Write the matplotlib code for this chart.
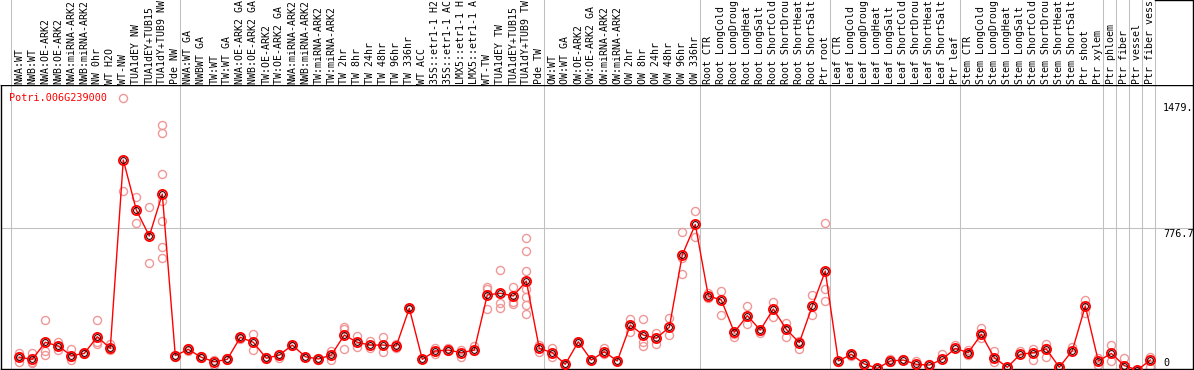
import matplotlib
matplotlib.use("Agg")
import matplotlib.pyplot as plt

# ---------------- data ----------------
gene = "Potri.006G239000"

samples = [
    "NWA:WT", "NWB:WT", "NWA:OE-ARK2", "NWB:OE-ARK2", "NWA:miRNA-ARK2", "NWB:miRNA-ARK2",
    "NW 0hr", "WT H2O", "WT-NW", "TUA1dEY NW", "TUA1dEY+TUB15 NW", "TUA1dY+TUB9 NW", "Pde NW",
    "NWA:WT GA", "NWBWT GA", "TW:WT", "TW:WT GA", "NWA:OE-ARK2 GA", "NWB:OE-ARK2 GA",
    "TW:OE-ARK2", "TW:OE-ARK2 GA", "NWA:miRNA-ARK2 GA", "NWB:miRNA-ARK2 GA", "TW:miRNA-ARK2",
    "TW:miRNA-ARK2 GA", "TW 2hr", "TW 8hr", "TW 24hr", "TW 48hr", "TW 96hr", "TW 336hr",
    "WT ACC", "35S::etr1-1 H2O", "35S::etr1-1 ACC", "LMX5::etr1-1 H2O", "LMX5::etr1-1 ACC",
    "WT-TW", "TUA1dEY TW", "TUA1dEY+TUB15 TW", "TUA1dY+TUB9 TW", "Pde TW",
    "OW:WT", "OW:WT GA", "OW:OE-ARK2", "OW:OE-ARK2 GA", "OW:miRNA-ARK2", "OW:miRNA-ARK2 GA",
    "OW 2hr", "OW 8hr", "OW 24hr", "OW 48hr", "OW 96hr", "OW 336hr",
    "Root CTR", "Root LongCold", "Root LongDrought", "Root LongHeat", "Root LongSalt",
    "Root ShortCold", "Root ShortDrought", "Root ShortHeat", "Root ShortSalt", "Ptr root",
    "Leaf CTR", "Leaf LongCold", "Leaf LongDrought", "Leaf LongHeat", "Leaf LongSalt",
    "Leaf ShortCold", "Leaf ShortDrought", "Leaf ShortHeat", "Leaf ShortSalt", "Ptr leaf",
    "Stem CTR", "Stem LongCold", "Stem LongDrought", "Stem LongHeat", "Stem LongSalt",
    "Stem ShortCold", "Stem ShortDrought", "Stem ShortHeat", "Stem ShortSalt", "Ptr shoot",
    "Ptr xylem", "Ptr phloem", "Ptr fiber", "Ptr vessel", "Ptr fiber vessel",
]

means = [
    80, 69, 161, 141, 89, 101, 191, 128, 1146, 876, 735, 962, 89,
    123, 80, 56, 69, 188, 161, 75, 92, 146, 83, 71, 92, 200, 161, 146, 146, 141, 345,
    69, 114, 119, 105, 119, 417, 426, 411, 492, 128,
    105, 42, 164, 65, 110, 60, 254, 200, 183, 242, 633, 798,
    411, 390, 215, 305, 227, 341, 231, 159, 357, 546,
    60, 96, 44, 20, 60, 65, 42, 38, 69, 128,
    105, 204, 78, 26, 96, 105, 125, 26, 116, 357, 60,
    101, 35, 11, 65,
]

replicates = [
    [101, 56, 85], [105, 48, 56], [280, 116, 92], [164, 119, 140], [123, 65, 80],
    [101, 98, 104], [280, 161, 152], [150, 128, 120], [1479, 977], [944, 804],
    [890, 588], [1335, 1290, 1070, 926, 815, 674, 615], [95, 80],
    [130, 115], [88, 75], [66, 38], [75, 65], [180, 192], [206, 119], [80, 70],
    [75, 100], [146, 140], [83], [78, 65], [116, 65], [242, 123, 235], [197, 137],
    [170, 130], [188, 107], [150, 130], [345, 340], [69], [130, 100], [130, 115],
    [119, 80], [140, 115], [461, 449, 341], [552, 372, 348], [458, 377, 370],
    [723, 654, 546, 447, 406, 362, 312], [145, 110],
    [128, 80], [42], [164], [65], [128, 96], [60], [287, 215], [287, 164, 143],
    [213, 150], [291, 200], [755, 615, 528], [870, 728],
    [425, 398], [438, 308], [191, 205], [357, 258], [210, 220], [377, 296],
    [267, 191], [170, 125], [417, 308], [804, 447, 384],
    [55], [100, 88], [48], [20], [70, 55], [70], [60], [42], [96], [146],
    [119, 92], [237, 182], [114, 53], [26], [116], [123, 65], [152, 128, 80],
    [26], [134], [390, 320], [78, 38],
    [146, 60], [75], [11], [80, 30],
]

group_bounds = [0, 13, 41, 53, 63, 73, 84, 85, 86, 87, 88]
grid_value = 776.7
ytick_labels = ["1479.", "776.7", "0"]

# ---------------- layout (pixels) ----------------
W, H, DPI = 1194, 370, 100
PX0, PX1 = 1, 1193           # plot frame x
PT, PB = 85, 369             # plot frame y (top / bottom)
COL_X0, COL_W = 19.3, 13.0   # pixel x of first column, spacing
Y_ZERO, Y_SCALE = 372.1, 0.1851  # pixel y of value 0, px per unit
MAX_CHARS = 14               # label box only shows this many characters

def px2dx(px):
    return (px - COL_X0) / COL_W

def py2val(py):
    return (Y_ZERO - py) / Y_SCALE

fig = plt.figure(figsize=(W / DPI, H / DPI), dpi=DPI)
ax = fig.add_axes([PX0 / W, (H - PB) / H, (PX1 - PX0) / W, (PB - PT) / H])
lab = fig.add_axes([PX0 / W, (H - PT) / H, (PX1 - PX0) / W, PT / H])

xlim = (px2dx(PX0), px2dx(PX1))
ax.set_xlim(*xlim)
ax.set_ylim(py2val(PB), py2val(PT))
lab.set_xlim(*xlim)
lab.set_ylim(0, 1)

for a in (ax, lab):
    a.set_xticks([])
    a.set_yticks([])
    a.set_facecolor("white")

for s in ax.spines.values():
    s.set_color("black")
    s.set_linewidth(1.0)
for s in lab.spines.values():
    s.set_visible(False)
lab.spines["right"].set_visible(True)
lab.spines["right"].set_color("black")
lab.spines["right"].set_linewidth(1.0)

GRAY = "#c0c0c0"
LW = 0.75
col_off = (11 - COL_X0) / COL_W
for k in group_bounds:
    ax.axvline(k + col_off, color=GRAY, lw=LW, zorder=0)
    lab.axvline(k + col_off, color=GRAY, lw=LW, zorder=0)
ax.axhline(grid_value, color=GRAY, lw=LW, zorder=0)
# top border of the empty label box on the right
lab.plot([group_bounds[-1] + col_off, xlim[1]], [0.995, 0.995], color="black", lw=1.0,
         clip_on=False)

# replicates
for i, reps in enumerate(replicates):
    ax.plot([i] * len(reps), reps, linestyle="none", marker="o", ms=5.8,
            mfc="none", mec="#f09898", mew=1.0, zorder=2)

xs = list(range(len(means)))
ax.plot(xs, means, color="#ff0000", lw=1.0, zorder=3)
ax.plot(xs, means, linestyle="none", marker="o", ms=6.6, mfc="none",
        mec="#ff0000", mew=1.3, zorder=4)
ax.plot(xs, means, linestyle="none", marker="o", ms=4.2, mfc="none",
        mec="#400000", mew=0.8, zorder=5)

FONT = "DejaVu Sans Mono"
FS = 7.1

# sample labels (rotated; the box shows only the first characters)
for i, name in enumerate(samples):
    lab.text(i, (PT - 84) / PT, name[:MAX_CHARS].rstrip(), rotation=90,
             rotation_mode="anchor", ha="left", va="center", family=FONT,
             fontsize=FS, color="black")

# gene name
ax.text(px2dx(9.5), 1 - (101 - PT) / (PB - PT), gene, transform=ax.get_xaxis_transform(),
        ha="left", va="baseline", family=FONT, fontsize=7.3, color="#ff0000")

# y value labels on the right
ytick_py = [103, 229, 358]
for txt, py in zip(ytick_labels, ytick_py):
    ax.text(px2dx(1163), 1 - (py - PT) / (PB - PT), txt, transform=ax.get_xaxis_transform(),
            ha="left", va="top", family=FONT, fontsize=7.3, color="black")

fig.savefig("out.png", dpi=DPI, facecolor="white")
